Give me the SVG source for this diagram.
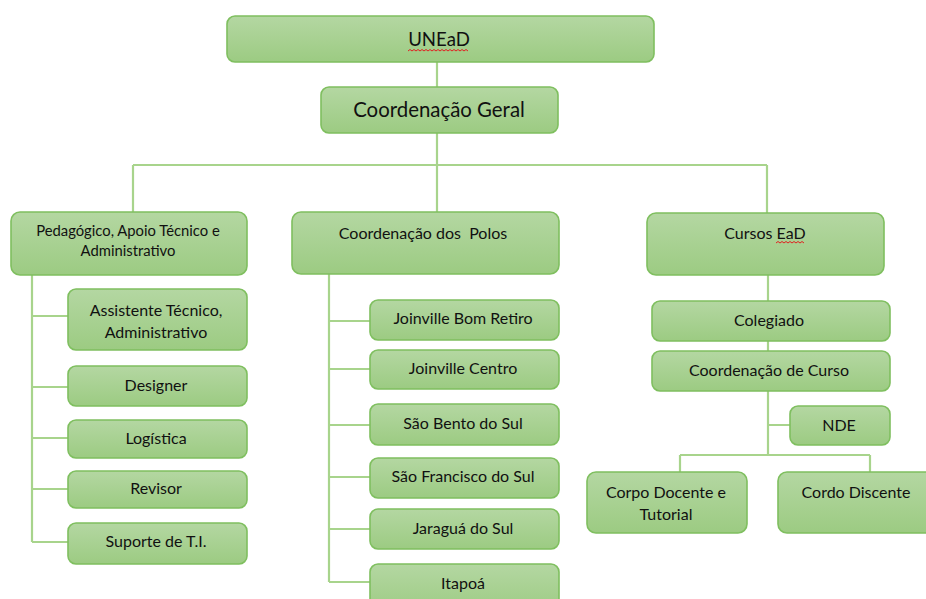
<svg xmlns="http://www.w3.org/2000/svg" width="926" height="599" viewBox="0 0 926 599">
<defs>
<linearGradient id="g" x1="0" y1="0" x2="0" y2="1">
<stop offset="0" stop-color="#b4d7a2"/>
<stop offset="1" stop-color="#9ccb82"/>
</linearGradient>
<style>
.box{fill:url(#g);stroke:#7fbf5f;stroke-width:1.6}
.t{font-family:Lato,"Liberation Sans",sans-serif;font-size:16px;fill:#111111;text-anchor:middle}
.s13{font-size:14.8px}
.big{font-size:20.4px}
.con{fill:none;stroke:#a8d48c;stroke-width:2.2}
.sq{fill:none;stroke:#e02020;stroke-width:1}
</style>
</defs>
<rect width="926" height="599" fill="#ffffff"/>
<g id="connectors">
<path class="con" d="M437 62V87M437 133V165M133 165H767M133 165V212M437 165V212M767 165V213"/>
<path class="con" d="M32 275V542M32 316H68M32 387H68M32 438H68M32 489H68M32 542H68"/>
<path class="con" d="M329 274V582M329 321H370M329 369H370M329 425H370M329 477H370M329 529H370M329 582H370"/>
<path class="con" d="M768 275V301M768 341V351M768 391V455M768 425H790M680 455H870M680 455V472M870 455V472"/>
</g>
<g id="n-uneadt">
<rect class="box" x="227" y="16" width="427" height="46" rx="8"/>
<text class="t" x="439" y="46" style="font-size:18.6px">UNEaD</text>
<path class="sq" d="M408 51l2-1.5 2 1.5 2-1.5 2 1.5 2-1.5 2 1.5 2-1.5 2 1.5 2-1.5 2 1.5 2-1.5 2 1.5 2-1.5 2 1.5 2-1.5 2 1.5 2-1.5 2 1.5 2-1.5 2 1.5 2-1.5 2 1.5 2-1.5 2 1.5 2-1.5 2 1.5 2-1.5 2 1.5 2-1.5 2 1.5"/>
</g>
<g id="n-coord-geral">
<rect class="box" x="321" y="87" width="237" height="46" rx="8"/>
<text class="t big" x="439" y="117">Coordenação Geral</text>
</g>
<g id="n-pedagogico">
<rect class="box" x="11" y="212" width="236" height="63" rx="9"/>
<text class="t s13" x="128" y="236">Pedagógico, Apoio Técnico e</text>
<text class="t s13" x="128" y="256">Administrativo</text>
</g>
<g id="n-polos">
<rect class="box" x="292" y="212" width="267" height="62" rx="9"/>
<text class="t" x="423" y="239" xml:space="preserve">Coordenação dos  Polos</text>
</g>
<g id="n-cursos">
<rect class="box" x="647" y="213" width="237" height="62" rx="9"/>
<text class="t" x="765" y="239">Cursos EaD</text>
<path class="sq" d="M776 243l2-1.5 2 1.5 2-1.5 2 1.5 2-1.5 2 1.5 2-1.5 2 1.5 2-1.5 2 1.5 2-1.5 2 1.5 2-1.5 2 1.5"/>
</g>
<g id="n-assistente">
<rect class="box" x="68" y="289" width="179" height="61" rx="8"/>
<text class="t" x="156" y="316">Assistente Técnico,</text>
<text class="t" x="156" y="338">Administrativo</text>
</g>
<g id="n-designer">
<rect class="box" x="68" y="366" width="179" height="40" rx="8"/>
<text class="t" x="156" y="391">Designer</text>
</g>
<g id="n-logistica">
<rect class="box" x="68" y="420" width="179" height="38" rx="8"/>
<text class="t" x="156" y="444">Logística</text>
</g>
<g id="n-revisor">
<rect class="box" x="68" y="471" width="179" height="37" rx="8"/>
<text class="t" x="156" y="494">Revisor</text>
</g>
<g id="n-suporte">
<rect class="box" x="68" y="523" width="179" height="41" rx="8"/>
<text class="t" x="156" y="547">Suporte de T.I.</text>
</g>
<g id="n-jbr">
<rect class="box" x="370" y="300" width="189" height="40" rx="8"/>
<text class="t" x="463" y="324">Joinville Bom Retiro</text>
</g>
<g id="n-jc">
<rect class="box" x="370" y="350" width="189" height="39" rx="8"/>
<text class="t" x="463" y="374">Joinville Centro</text>
</g>
<g id="n-sbs">
<rect class="box" x="370" y="404" width="189" height="41" rx="8"/>
<text class="t" x="463" y="429">São Bento do Sul</text>
</g>
<g id="n-sfs">
<rect class="box" x="370" y="458" width="189" height="40" rx="8"/>
<text class="t" x="463" y="482">São Francisco do Sul</text>
</g>
<g id="n-js">
<rect class="box" x="370" y="509" width="189" height="40" rx="8"/>
<text class="t" x="463" y="534">Jaraguá do Sul</text>
</g>
<g id="n-itapoa">
<rect class="box" x="370" y="564" width="189" height="50" rx="8"/>
<text class="t" x="463" y="589">Itapoá</text>
</g>
<g id="n-colegiado">
<rect class="box" x="652" y="301" width="238" height="40" rx="8"/>
<text class="t" x="769" y="326">Colegiado</text>
</g>
<g id="n-coord-curso">
<rect class="box" x="652" y="351" width="238" height="40" rx="8"/>
<text class="t" x="769" y="376">Coordenação de Curso</text>
</g>
<g id="n-nde">
<rect class="box" x="790" y="406" width="100" height="39" rx="8"/>
<text class="t" x="839" y="431">NDE</text>
</g>
<g id="n-corpo">
<rect class="box" x="587" y="472" width="160" height="61" rx="9"/>
<text class="t" x="666" y="498">Corpo Docente e</text>
<text class="t" x="666" y="520">Tutorial</text>
</g>
<g id="n-discente">
<rect class="box" x="778" y="472" width="160" height="61" rx="9"/>
<text class="t" x="856" y="498">Cordo Discente</text>
</g>
</svg>
